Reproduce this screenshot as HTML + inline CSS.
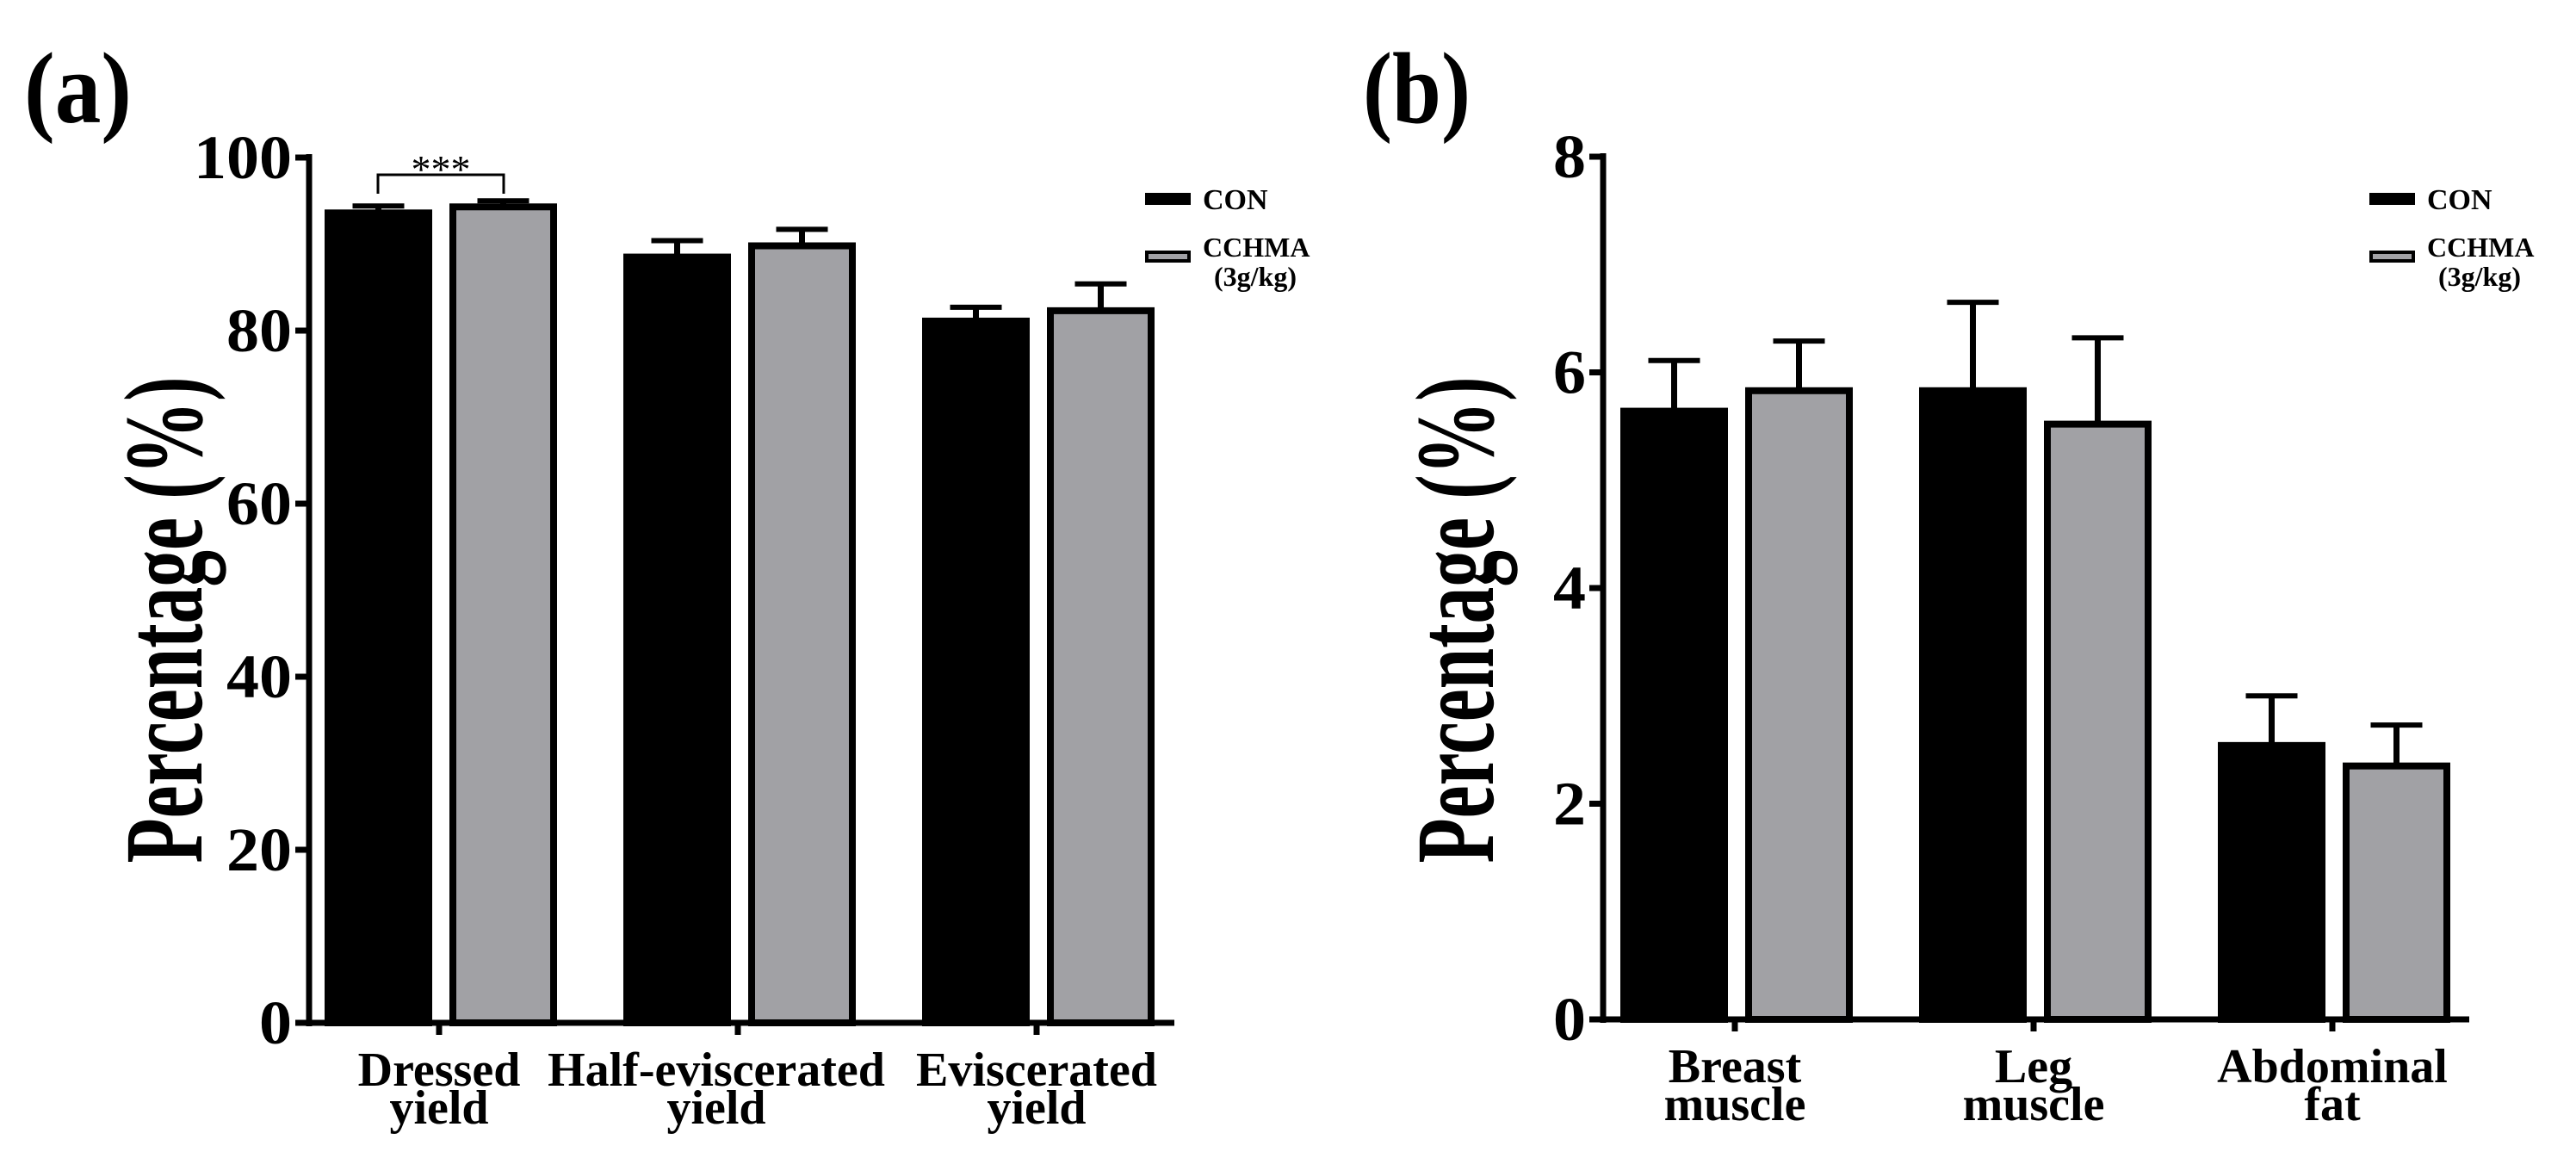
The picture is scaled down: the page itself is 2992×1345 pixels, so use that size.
<!DOCTYPE html>
<html><head><meta charset="utf-8"><style>
html,body{margin:0;padding:0;background:#fff}
svg{display:block}
text{font-family:"Liberation Serif","DejaVu Serif",serif;font-weight:bold;fill:#000}
</style></head><body>
<svg id="fig" width="2992" height="1345" viewBox="0 0 2992 1345" xmlns="http://www.w3.org/2000/svg"></svg>
<script>
const catsA=[["Dressed","yield"],["Half-eviscerated","yield"],["Eviscerated","yield"]];
const conA=[93.6,88.5,81.1];
const conErrA=[94.4,90.4,82.7];
const cchA=[94.3,89.8,82.3];
const cchErrA=[95.0,91.7,85.4];
const ticksA=[0,20,40,60,80,100];
const catsB=[["Breast","muscle"],["Leg","muscle"],["Abdominal","fat"]];
const conB=[5.64,5.83,2.54];
const conErrB=[6.11,6.65,3.0];
const cchB=[5.83,5.52,2.35];
const cchErrB=[6.29,6.32,2.73];
const ticksB=[0,2,4,6,8];

const NS="http://www.w3.org/2000/svg";
const svg=document.getElementById('fig');
function mk(tag,attrs,parent,txt){const e=document.createElementNS(NS,tag);for(const k in attrs)e.setAttribute(k,attrs[k]);if(txt!==undefined)e.textContent=txt;(parent||svg).appendChild(e);return e;}

function panel(o){
  const g=mk('g',{});
  
  
  const y=v=>o.y0-(v/o.max)*(o.y0-o.yTop);
  const lab=mk('text',{x:o.labX,y:142,'font-size':118,textLength:125,lengthAdjust:'spacingAndGlyphs'},g,o.label);
  
  
  for(let i=0;i<o.cats.length;i++){
    const cx=o.x0+o.firstTick+i*o.spacing;
    const series=[[o.con,o.conErr,'#000','con'],[o.cch,o.cchErr,'#a1a1a5','cchma']];
    series.forEach((s,j)=>{
      const left=j===0?cx-129:cx+16;
      const w=117;
      const top=y(s[0][i]);
      const eTop=y(s[1][i]);
      const bx=left+w/2;
      const eb=mk('line',{x1:bx,x2:bx,y1:top,y2:eTop,stroke:'#000','stroke-width':7},g);
      
      
      const cap=mk('line',{x1:bx-30,x2:bx+30,y1:eTop,y2:eTop,stroke:'#000','stroke-width':6},g);
      
      
      const r=mk('rect',{x:left,y:top,width:w,height:o.y0-top,fill:s[2],stroke:'#000','stroke-width':8},g);
      
      
    });
    const t=mk('line',{x1:cx,x2:cx,y1:o.y0,y2:o.y0+14,stroke:'#000','stroke-width':7},g);
    
    
    const lx=cx+(o.labDx[i]||0);
    const tl=mk('text',{x:lx,y:o.y0+73,'font-size':56,'text-anchor':'middle'},g,o.cats[i][0]);
    
    
    const tl2=mk('text',{x:lx,y:o.y0+117,'font-size':56,'text-anchor':'middle'},g,o.cats[i][1]);
    
    
  }
  const ya=mk('line',{x1:o.x0,x2:o.x0,y1:o.yTop-4,y2:o.y0+4,stroke:'#000','stroke-width':7},g);
  
  
  const xa=mk('line',{x1:o.x0-4,x2:o.xEnd,y1:o.y0,y2:o.y0,stroke:'#000','stroke-width':7},g);
  
  
  o.ticks.forEach(v=>{
    const tk=mk('line',{x1:o.x0-16,x2:o.x0,y1:y(v),y2:y(v),stroke:'#000','stroke-width':7},g);
    
    
    const tt=mk('text',{x:o.x0-20,y:y(v)+24,'font-size':72,'text-anchor':'end',textLength:String(v).length*38,lengthAdjust:'spacingAndGlyphs'},g,String(v));
    
    
  });
  const yt=mk('text',{x:0,y:0,'font-size':130,'text-anchor':'middle',textLength:565,lengthAdjust:'spacingAndGlyphs',transform:`translate(${o.titleX},${o.titleY}) rotate(-90)`},g,'Percentage (%)');
  
  
  const lg=mk('g',{},g);
  
  
  const l1=mk('rect',{x:o.legX,y:226,width:49,height:10,fill:'#000',stroke:'#000','stroke-width':4},lg);
  
  
  const l1t=mk('text',{x:o.legX+65,y:243,'font-size':34},lg,'CON');
  
  
  const l2=mk('rect',{x:o.legX,y:293,width:49,height:10,fill:'#a1a1a5',stroke:'#000','stroke-width':4},lg);
  
  
  const l2t=mk('text',{x:o.legX+65,y:298,'font-size':32},lg,'CCHMA');
  
  
  const l3t=mk('text',{x:o.legX+126,y:332,'font-size':32,'text-anchor':'middle'},lg,'(3g/kg)');
  
  
  return {g,y};
}

const A=panel({name:'panel-a',label:'(a)',labX:28,x0:359,xEnd:1364,y0:1188,yTop:183,max:100,firstTick:151,spacing:347,labDx:[0,-25,0],cats:catsA,con:conA,conErr:conErrA,cch:cchA,cchErr:cchErrA,ticks:ticksA,titleX:234,titleY:720,legX:1332});
const B=panel({name:'panel-b',label:'(b)',labX:1583,x0:1862,xEnd:2868,y0:1184,yTop:182,max:8,firstTick:153,spacing:347,labDx:[0,0,0],cats:catsB,con:conB,conErr:conErrB,cch:cchB,cchErr:cchErrB,ticks:ticksB,titleX:1734,titleY:720,legX:2754});

const br=mk('path',{d:'M439,225 L439,203 L585,203 L585,225',fill:'none',stroke:'#000','stroke-width':3},A.g);


const st=mk('text',{x:512,y:212,'font-size':46,'text-anchor':'middle',style:'font-weight:normal'},A.g,'***');


</script>
</body></html>
